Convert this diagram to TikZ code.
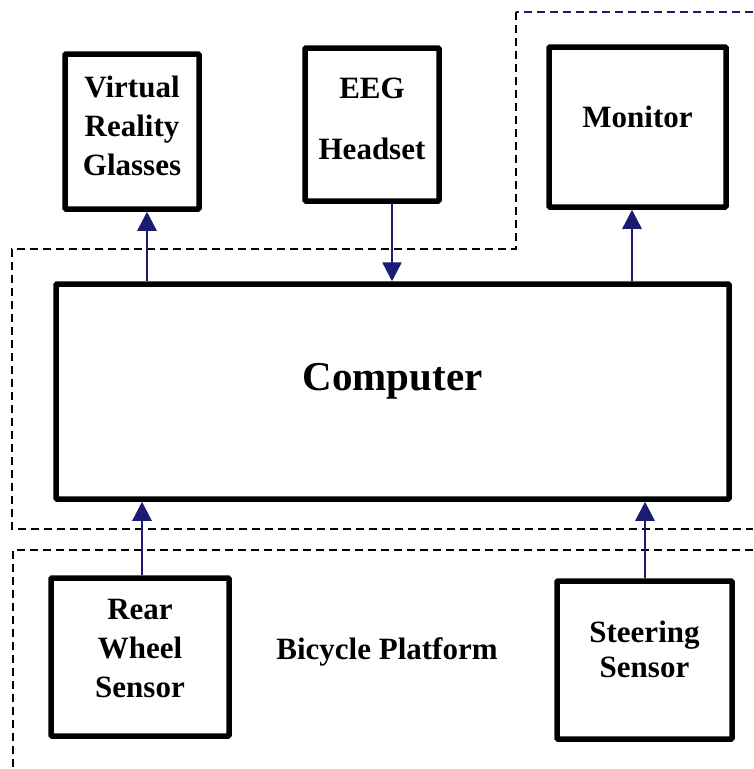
\documentclass[tikz,border=0pt]{standalone}
\usepackage{fontspec}
\setmainfont{Liberation Serif}
\usetikzlibrary{arrows.meta}
\definecolor{navy}{RGB}{27,27,115}
\begin{document}
\begin{tikzpicture}[x=1pt,y=-1pt,
  box/.style={draw=black,line width=5.5pt,rounded corners=1pt,inner sep=0pt,anchor=center},
  lbl/.style={font=\fontsize{31}{39}\selectfont\bfseries,align=center,inner sep=0pt,anchor=center},
  arr/.style={draw=navy,line width=2.5pt,-{Triangle[length=19pt,width=19pt]}},
  zone/.style={line width=2pt,dash pattern=on 8pt off 5pt}]
\useasboundingbox (0,0) rectangle (753,769);

% dashed zone outlines
\draw[zone,navy] (753,12) -- (516,12);
\draw[zone] (516,12) -- (516,249) -- (12,249) -- (12,529) -- (753,529);
\draw[zone] (753,550) -- (13,550) -- (13,769);

% boxes
\node[box,minimum width=134pt,minimum height=155pt] (vr) at (132,131.5) {};
\node[box,minimum width=134pt,minimum height=153pt] (eeg) at (372,124.5) {};
\node[box,minimum width=177pt,minimum height=160pt] (mon) at (637.5,127) {};
\node[box,minimum width=673pt,minimum height=215pt] (comp) at (392.5,391.5) {};
\node[box,minimum width=178pt,minimum height=158pt] (rear) at (140,657) {};
\node[box,minimum width=175pt,minimum height=158pt] (steer) at (644.5,660) {};

% labels
\node[lbl] (vrt) at (132,126) {Virtual\\Reality\\Glasses};
\node[lbl] (eegt) at (372,118.5) {EEG\\[22pt]Headset};
\node[lbl] (mont) at (637.5,117) {Monitor};
\node[lbl,font=\fontsize{41}{48}\selectfont\bfseries] (compt) at (392.5,381) {Computer};
\node[lbl] (reart) at (140,648.5) {Rear\\Wheel\\Sensor};
\node[lbl,font=\fontsize{31}{35}\selectfont\bfseries] (steert) at (644.5,649.5) {Steering\\Sensor};
\node[lbl] (bike) at (387,652) {Bicycle Platform};

% connectors
\draw[arr] (comp.north -| 147,0) -- (vr.south -| 147,0);
\draw[arr] (eeg.south -| 392,0) -- (comp.north -| 392,0);
\draw[arr] (comp.north -| 632,0) -- (mon.south -| 632,0);
\draw[arr] (rear.north -| 142,0) -- (comp.south -| 142,0);
\draw[arr] (steer.north -| 645,0) -- (comp.south -| 645,0);
\end{tikzpicture}
\end{document}
